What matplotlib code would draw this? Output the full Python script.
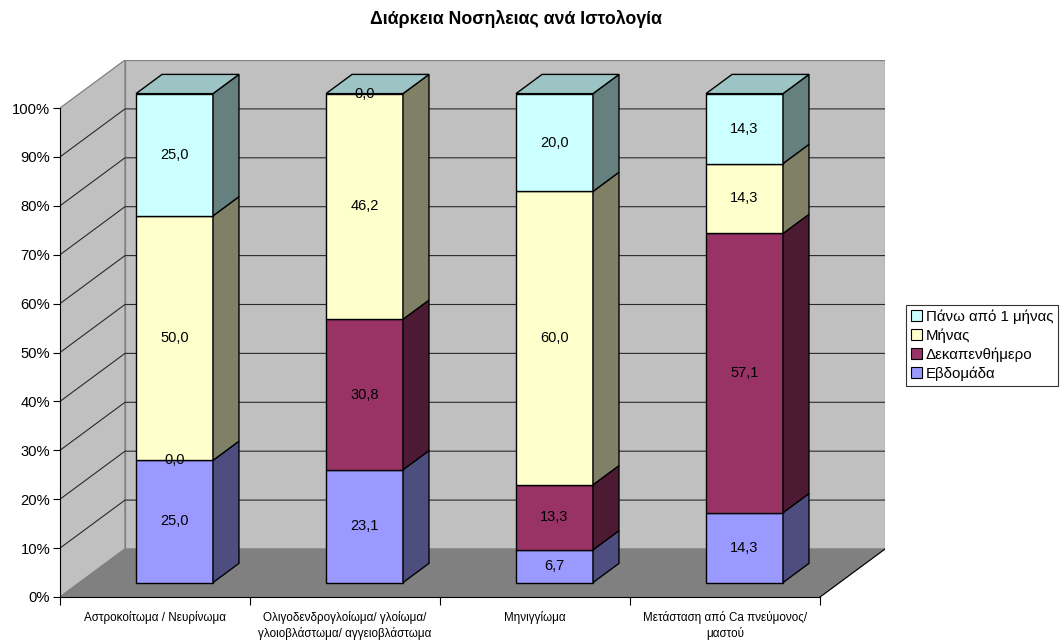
import numpy as np
import matplotlib.pyplot as plt
from matplotlib.patches import Polygon, Patch
from matplotlib.colors import to_rgb

plt.rcParams['font.family'] = ['Liberation Sans', 'DejaVu Sans']

categories = ['Αστροκοίτωμα / Νευρίνωμα',
              'Ολιγοδενδρογλοίωμα/ γλοίωμα/\nγλοιοβλάστωμα/ αγγειοβλάστωμα',
              'Μηνιγγίωμα',
              'Μετάσταση από Ca πνεύμονος/\nμαστού']
series = ['Εβδομάδα', 'Δεκαπενθήμερο', 'Μήνας', 'Πάνω από 1 μήνας']
evdomada = [25.0, 23.1, 6.7, 14.3]
dekapenthimero = [0.0, 30.8, 13.3, 57.1]
minas = [50.0, 46.2, 60.0, 14.3]
pano_minas = [25.0, 0.0, 20.0, 14.3]
colors = ['#9999FF', '#993366', '#FFFFCC', '#CCFFFF']

values = np.array([evdomada, dekapenthimero, minas, pano_minas])
pct = values / values.sum(axis=0) * 100   # 100% stacked

# depth of the 3d box, in data units (categories, percent)
DX, DY = 0.342, 9.82
f0, f1 = 0.3, 0.7      # bar front / back depth
hw = 0.2025            # half bar width


def shade(c, k):
    return tuple(np.array(to_rgb(c)) * k)


fig = plt.figure(figsize=(10.63, 6.41), dpi=100)
ax = fig.add_axes([60 / 1063, 44 / 641, 825 / 1063, 537 / 641])
ax.set_xlim(0, 4 + DX)
ax.set_ylim(0, 100 + DY)

# walls and floor
ax.add_patch(Polygon([(0, 0), (0, 100), (DX, 100 + DY), (DX, DY)],
                     fc='#C0C0C0', ec='#808080', lw=0.9, zorder=0))
ax.add_patch(Polygon([(DX, DY), (DX, 100 + DY), (4 + DX, 100 + DY), (4 + DX, DY)],
                     fc='#C0C0C0', ec='#808080', lw=0.9, zorder=0))
ax.add_patch(Polygon([(0, 0), (4, 0), (4 + DX, DY), (DX, DY)],
                     fc='#808080', ec='#808080', lw=0.9, zorder=0))
ax.plot([4, 4 + DX], [0, DY], color='black', lw=0.8, zorder=1)

for t in range(10, 100, 10):
    ax.plot([0, DX, 4 + DX], [t, t + DY, t + DY], color='#2a2a2a', lw=0.8, zorder=1)

# stacked bars
ox, oy = f0 * DX, f0 * DY
bx, by = (f1 - f0) * DX, (f1 - f0) * DY
for i in range(len(categories)):
    x0 = i + 0.5 - hw + ox
    x1 = i + 0.5 + hw + ox
    bottom = 0
    for j in range(len(series)):
        top = bottom + pct[j, i]
        b, t = bottom + oy, top + oy
        if pct[j, i] > 0:
            ax.add_patch(Polygon([(x0, b), (x1, b), (x1, t), (x0, t)],
                                 fc=colors[j], ec='black', lw=1.0, zorder=3))
            ax.add_patch(Polygon([(x1, b), (x1 + bx, b + by), (x1 + bx, t + by), (x1, t)],
                                 fc=shade(colors[j], 0.5), ec='black', lw=1.0, zorder=3))
        ax.text(i + 0.5 + ox, (b + t) / 2, f'{values[j, i]:.1f}'.replace('.', ','),
                ha='center', va='center', fontsize=10.5, zorder=5)
        bottom = top
    T = bottom + oy
    ax.add_patch(Polygon([(x0, T), (x1, T), (x1 + bx, T + by), (x0 + bx, T + by)],
                         fc=shade(colors[-1], 0.77), ec='black', lw=1.0, zorder=3))

# axes
for s in ['top', 'right']:
    ax.spines[s].set_visible(False)
ax.spines['left'].set_bounds(0, 100)
ax.spines['bottom'].set_bounds(0, 4)
ax.spines['left'].set_zorder(2)
ax.spines['bottom'].set_zorder(2)
ax.set_yticks(range(0, 101, 10))
ax.set_yticklabels([f'{t}%' for t in range(0, 101, 10)], fontsize=10.6)
ax.tick_params(axis='y', direction='out', length=5, width=0.8, pad=2)
ax.set_xticks(range(5))
ax.set_xticklabels([])
ax.tick_params(axis='x', which='major', direction='out', length=6, width=0.8)
ax.set_xticks(np.arange(4) + 0.5, minor=True)
ax.set_xticklabels(categories, minor=True, fontsize=8.4, linespacing=1.3)
ax.tick_params(axis='x', which='minor', length=0, pad=10)

fig.text(516 / 1063, 1 - 19 / 641, 'Διάρκεια Νοσηλειας ανά Ιστολογία',
         ha='center', va='center', fontsize=12.8, fontweight='bold')

handles = [Patch(fc=colors[j], ec='black', lw=0.8) for j in range(3, -1, -1)]
labels = [series[j] for j in range(3, -1, -1)]
leg = fig.legend(handles, labels, loc='upper left',
                 bbox_to_anchor=(906 / 1063, 1 - 305 / 641), borderaxespad=0,
                 fontsize=10.8, frameon=True, fancybox=False, edgecolor='black',
                 handlelength=0.75, handleheight=0.75, handletextpad=0.25,
                 labelspacing=0.3, borderpad=0.3)
leg.get_frame().set_linewidth(0.8)

fig.savefig('out.png', dpi=100, facecolor='white')
